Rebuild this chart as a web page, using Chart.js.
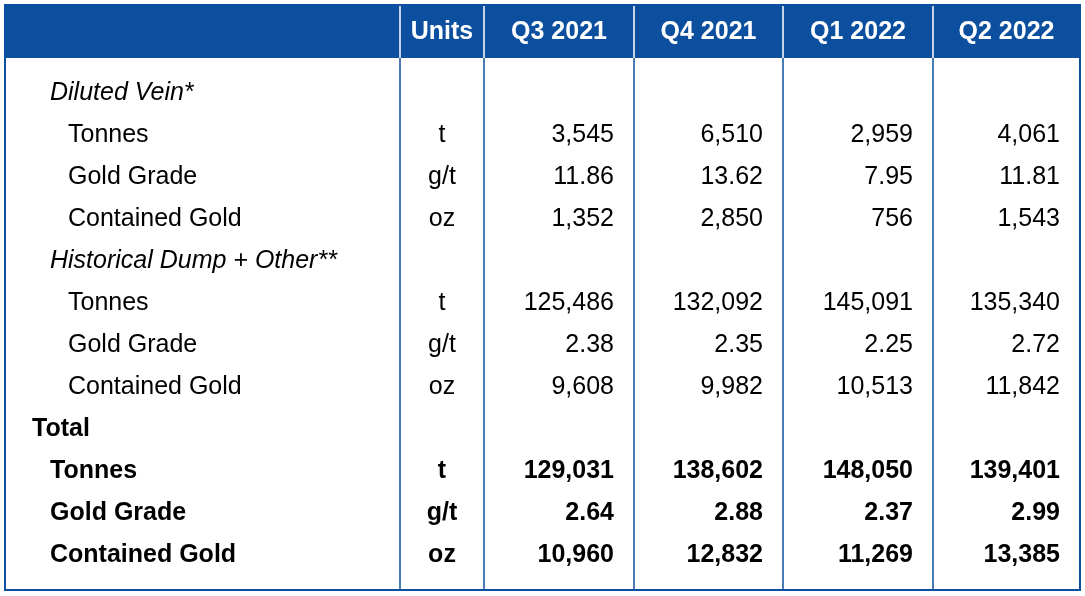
<!DOCTYPE html>
<html>
<head>
<meta charset="utf-8">
<script src="https://cdn.jsdelivr.net/npm/chart.js@4"></script>
<style>
  html, body { margin: 0; padding: 0; background: #fff; }
  #wrap { width: 1085px; height: 596px; }
</style>
</head>
<body>
<div id="wrap"><canvas id="myTable"></canvas></div>
<script>
// table data
const headers = ['', 'Units', 'Q3 2021', 'Q4 2021', 'Q1 2022', 'Q2 2022'];
const rowLabels = ['Diluted Vein*', 'Tonnes', 'Gold Grade', 'Contained Gold',
  'Historical Dump + Other**', 'Tonnes', 'Gold Grade', 'Contained Gold',
  'Total', 'Tonnes', 'Gold Grade', 'Contained Gold'];
const rowStyle = ['section', 'sub', 'sub', 'sub', 'section', 'sub', 'sub', 'sub', 'total', 'bold', 'bold', 'bold'];
const units = ['', 't', 'g/t', 'oz', '', 't', 'g/t', 'oz', '', 't', 'g/t', 'oz'];
const q3_2021 = ['', '3,545', '11.86', '1,352', '', '125,486', '2.38', '9,608', '', '129,031', '2.64', '10,960'];
const q4_2021 = ['', '6,510', '13.62', '2,850', '', '132,092', '2.35', '9,982', '', '138,602', '2.88', '12,832'];
const q1_2022 = ['', '2,959', '7.95', '756', '', '145,091', '2.25', '10,513', '', '148,050', '2.37', '11,269'];
const q2_2022 = ['', '4,061', '11.81', '1,543', '', '135,340', '2.72', '11,842', '', '139,401', '2.99', '13,385'];
const columns = [units, q3_2021, q4_2021, q1_2022, q2_2022];

// column edges in table units (x scale), row layout in y scale units
const colEdges = [0, 395, 479, 629, 778, 928, 1075];
const headerH = 53, rowH = 42, bodyTop = 67;
const blue = '#0c4f9f';
const FONT = '"Liberation Sans", Arial, sans-serif';

const tablePlugin = {
  id: 'table',
  afterDraw(chart) {
    const c = chart.ctx, xs = chart.scales.x, ys = chart.scales.y;
    const X = v => xs.getPixelForValue(v), Y = v => ys.getPixelForValue(v);
    c.save();
    // header band
    c.fillStyle = blue;
    c.fillRect(X(0), Y(0), X(1075) - X(0), Y(headerH) - Y(0));
    // vertical lines
    c.strokeStyle = blue; c.lineWidth = 1.5;
    colEdges.slice(1, -1).forEach(e => {
      c.beginPath(); c.moveTo(X(e), Y(headerH)); c.lineTo(X(e), Y(585)); c.stroke();
    });
    c.strokeStyle = '#fff';
    colEdges.slice(1, -1).forEach(e => {
      c.beginPath(); c.moveTo(X(e), Y(0)); c.lineTo(X(e), Y(headerH)); c.stroke();
    });
    // outer border
    c.strokeStyle = blue; c.lineWidth = 2;
    c.strokeRect(X(0), Y(0), X(1075) - X(0), Y(585) - Y(0));
    // header text
    c.fillStyle = '#fff'; c.font = 'bold 25px ' + FONT;
    c.textAlign = 'center'; c.textBaseline = 'middle';
    headers.forEach((h, i) => {
      if (h) c.fillText(h, (X(colEdges[i]) + X(colEdges[i + 1])) / 2, Y(headerH / 2) + 1);
    });
    // body
    c.fillStyle = '#000';
    rowLabels.forEach((lab, r) => {
      const y = Y(bodyTop + rowH * r + rowH / 2);
      const st = rowStyle[r];
      const bold = st === 'total' || st === 'bold';
      c.font = (st === 'section' ? 'italic ' : bold ? 'bold ' : '') + '25px ' + FONT;
      c.textAlign = 'left';
      const indent = st === 'section' ? 45 : st === 'sub' ? 63 : st === 'total' ? 27 : 45;
      c.fillText(lab, X(indent), y);
      columns.forEach((col, ci) => {
        const v = col[r];
        if (!v) return;
        if (ci === 0) {
          c.textAlign = 'center';
          c.fillText(v, (X(colEdges[1]) + X(colEdges[2])) / 2, y);
        } else {
          c.textAlign = 'right';
          c.fillText(v, X(colEdges[ci + 2]) - 20, y);
        }
      });
    });
    c.restore();
  }
};

new Chart(document.getElementById('myTable'), {
  type: 'scatter',
  data: { datasets: [{ data: [] }] },
  options: {
    responsive: true, maintainAspectRatio: false, animation: false,
    layout: { padding: { left: 5, top: 5, right: 5, bottom: 6 } },
    plugins: { legend: { display: false }, tooltip: { enabled: false } },
    scales: {
      x: { type: 'linear', min: 0, max: 1075, display: false },
      y: { type: 'linear', min: 0, max: 585, reverse: true, display: false }
    }
  },
  plugins: [tablePlugin]
});
</script>
</body>
</html>
